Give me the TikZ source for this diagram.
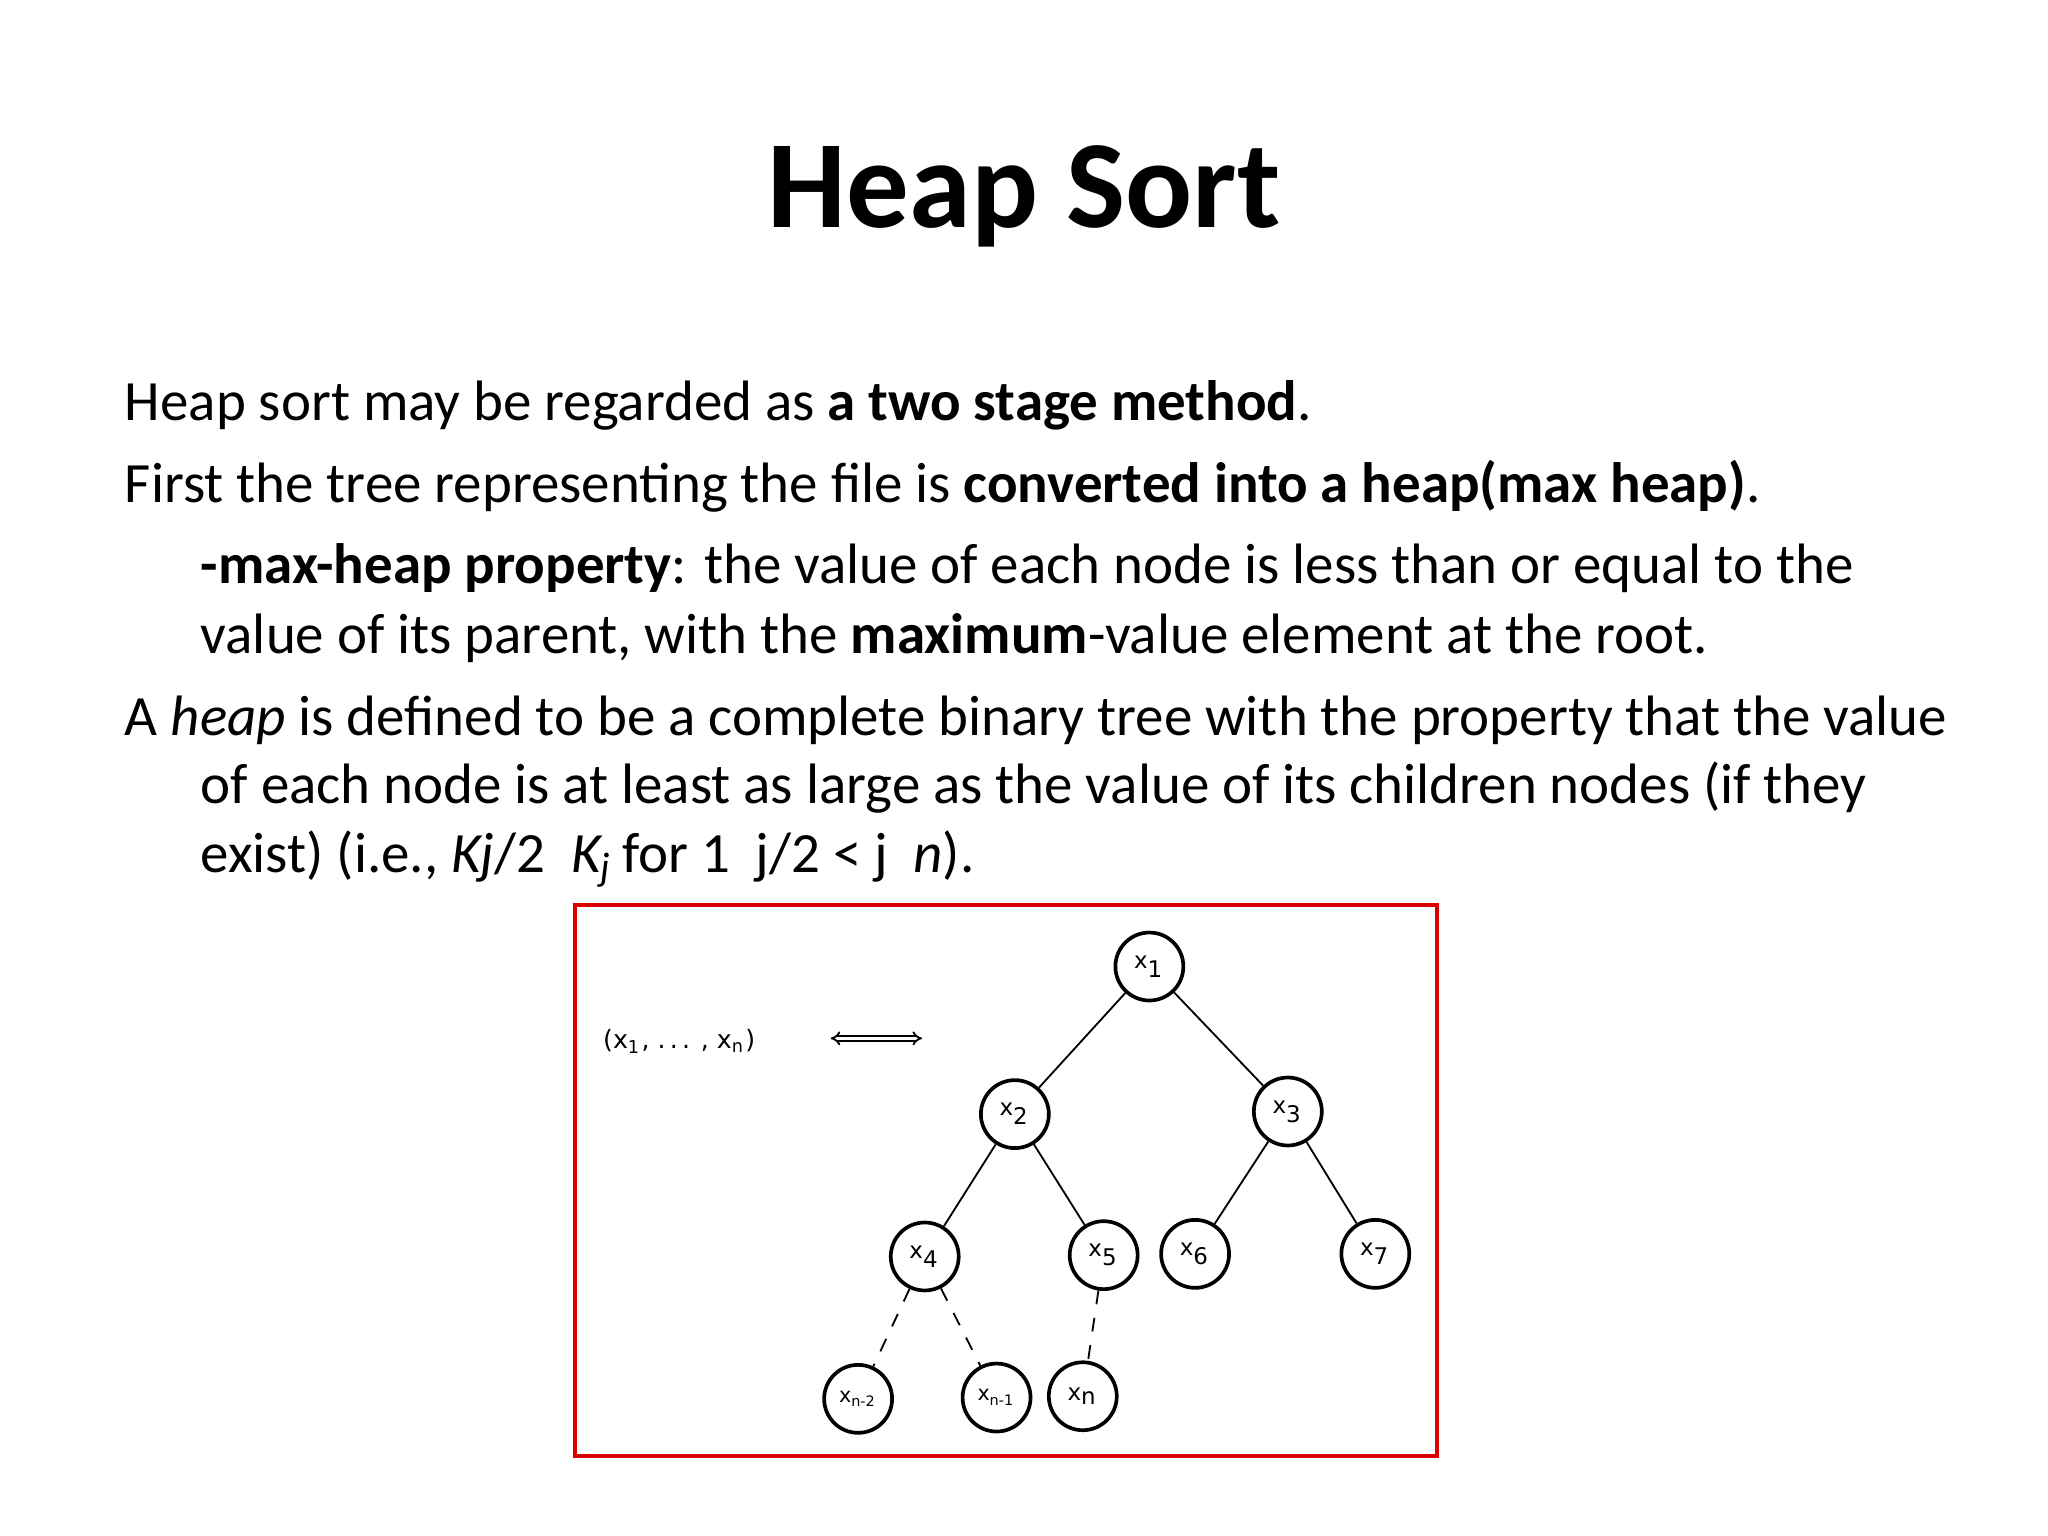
\documentclass[tikz,border=0pt]{standalone}
\usepackage{fontspec}
\setmainfont{Carlito}
\setsansfont{DejaVu Sans}
\usetikzlibrary{arrows.meta}
\newcommand{\sbs}[1]{\textsubscript{#1}}
\begin{document}
\begin{tikzpicture}[x=0.01cm,y=-0.01cm,
  body/.style={anchor=base west,inner sep=0,font=\fontsize{12.4}{14}\selectfont},
  hn/.style={circle,draw,thick,minimum size=0.52cm,inner sep=0,font=\sffamily\fontsize{5}{6}\selectfont},
  edge/.style={thin},
  dedge/.style={thin,dashed}]
\useasboundingbox (0,0) rectangle (1568,1176);
\node[anchor=center,font=\bfseries\fontsize{27.2}{32}\selectfont] (title) at (784,150) {Heap Sort};
\node[body] (l1) at (95,322) {Heap sort may be regarded as \textbf{a two stage method}.};
\node[body] (l2) at (95,385) {First the tree representing the file is \textbf{converted into a heap(max heap)}.};
\node[body] (l3) at (153,447) {\textbf{-max-heap property}: the value of each node is less than or equal to the};
\node[body] (l4) at (153,500) {value of its parent, with the \textbf{maximum}-value element at the root.};
\node[body] (l5) at (95,563) {A \textit{heap} is defined to be a complete binary tree with the property that the value};
\node[body] (l6) at (153,615) {of each node is at least as large as the value of its children nodes (if they};
\node[body] (l7) at (153,668) {exist) (i.e., \textit{Kj}/2\ \ \textit{K\sbs{j}}\,for 1\ \ j/2 < j\ \ \textit{n}).};
\draw[red!85!black,thick] (440,693) rectangle (1100,1115);
\node[font=\sffamily\fontsize{5.5}{6}\selectfont] (seq) at (520,797) {(x\sbs{1}, .\,.\,. , x\sbs{n})};
\coordinate (al) at (636,795);
\coordinate (ar) at (706,795);
\draw[{Implies}-{Implies},double,thin] (al) -- (ar);
\node[hn] (x1) at (880,740) {x\sbs{1}};
\node[hn] (x2) at (777,853) {x\sbs{2}};
\node[hn] (x3) at (986,851) {x\sbs{3}};
\node[hn] (x4) at (708,962) {x\sbs{4}};
\node[hn] (x5) at (845,961) {x\sbs{5}};
\node[hn] (x6) at (915,960) {x\sbs{6}};
\node[hn] (x7) at (1053,960) {x\sbs{7}};
\node[hn,font=\sffamily\fontsize{4.5}{5}\selectfont] (xa) at (657,1071) {x\sbs{n-2}};
\node[hn,font=\sffamily\fontsize{4.5}{5}\selectfont] (xb) at (763,1070) {x\sbs{n-1}};
\node[hn] (xc) at (829,1069) {x\sbs{n}};
\draw[edge] (x1) -- (x2);
\draw[edge] (x1) -- (x3);
\draw[edge] (x2) -- (x4);
\draw[edge] (x2) -- (x5);
\draw[edge] (x3) -- (x6);
\draw[edge] (x3) -- (x7);
\draw[dedge] (x4) -- (xa);
\draw[dedge] (x4) -- (xb);
\draw[dedge] (x5) -- (xc);
\end{tikzpicture}
\end{document}
